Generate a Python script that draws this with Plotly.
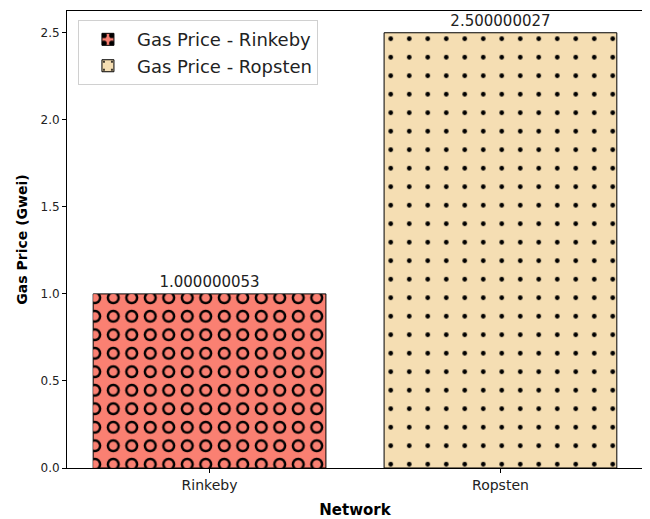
import plotly.graph_objects as go

networks = ["Rinkeby", "Ropsten"]
gas_prices = [1.000000053, 2.500000027]
labels = ["1.000000053", "2.500000027"]
series_names = ["Gas Price - Rinkeby", "Gas Price - Ropsten"]
y_ticks = [0.0, 0.5, 1.0, 1.5, 2.0, 2.5]

FONT = "DejaVu Sans"

fig = go.Figure()

# Rinkeby: ring hatch = black dots with smaller salmon dots on top
fig.add_trace(go.Bar(
    x=[networks[0]], y=[gas_prices[0]], name=series_names[0], width=0.8,
    marker=dict(color="#FA8072", line=dict(color="black", width=1),
                pattern=dict(shape=".", fgcolor="black", bgcolor="#FA8072",
                             fgopacity=1, size=18.5, solidity=0.40)),
    text=[labels[0]], textposition="outside", cliponaxis=False,
    textfont=dict(family=FONT, size=15, color="#222"),
))
fig.add_trace(go.Bar(
    x=[networks[0]], y=[gas_prices[0]], width=0.8, showlegend=False, hoverinfo="skip",
    marker=dict(color="rgba(0,0,0,0)", line=dict(width=0),
                pattern=dict(shape=".", fgcolor="#FA8072", bgcolor="rgba(0,0,0,0)",
                             fgopacity=1, size=18.5, solidity=0.16)),
))
# Ropsten: small dots
fig.add_trace(go.Bar(
    x=[networks[1]], y=[gas_prices[1]], name=series_names[1], width=0.8,
    marker=dict(color="#F5DEB3", line=dict(color="black", width=1),
                pattern=dict(shape=".", fgcolor="black", bgcolor="#F5DEB3",
                             fgopacity=1, size=18.5, solidity=0.05)),
    text=[labels[1]], textposition="outside", cliponaxis=False,
    textfont=dict(family=FONT, size=15, color="#222"),
))

# page body has an 8px margin, so the figure is sized to the visible area
fig.update_layout(
    width=642, height=511,
    barmode="overlay",
    plot_bgcolor="white", paper_bgcolor="white",
    margin=dict(l=59, r=7, t=3, b=51),
    font=dict(family=FONT, size=12, color="#222"),
    legend=dict(x=0.019, y=0.98, xanchor="left", yanchor="top",
                bgcolor="rgba(255,255,255,0.8)", bordercolor="#d0d0d0", borderwidth=1,
                font=dict(family=FONT, size=18, color="#222"),
                itemwidth=48, tracegroupgap=2),
    showlegend=True,
)
fig.update_xaxes(
    range=[-0.49, 1.49], showline=True, linecolor="black", linewidth=1, mirror=True,
    ticks="outside", ticklen=4, tickcolor="black", showgrid=False, automargin=False,
    tickfont=dict(size=14),
    title=dict(text="<b>Network</b>", font=dict(family=FONT, size=15, color="black"), standoff=12),
)
fig.update_yaxes(
    range=[0, 2.625], tickvals=y_ticks, tickformat=".1f",
    showline=True, linecolor="black", linewidth=1, mirror=True,
    ticks="outside", ticklen=4, tickcolor="black", showgrid=False, zeroline=False,
    automargin=False, tickfont=dict(size=12),
    title=dict(text="<b>Gas Price (Gwei)</b>", font=dict(family=FONT, size=14, color="black"), standoff=9),
)

fig.write_html("out.html")
